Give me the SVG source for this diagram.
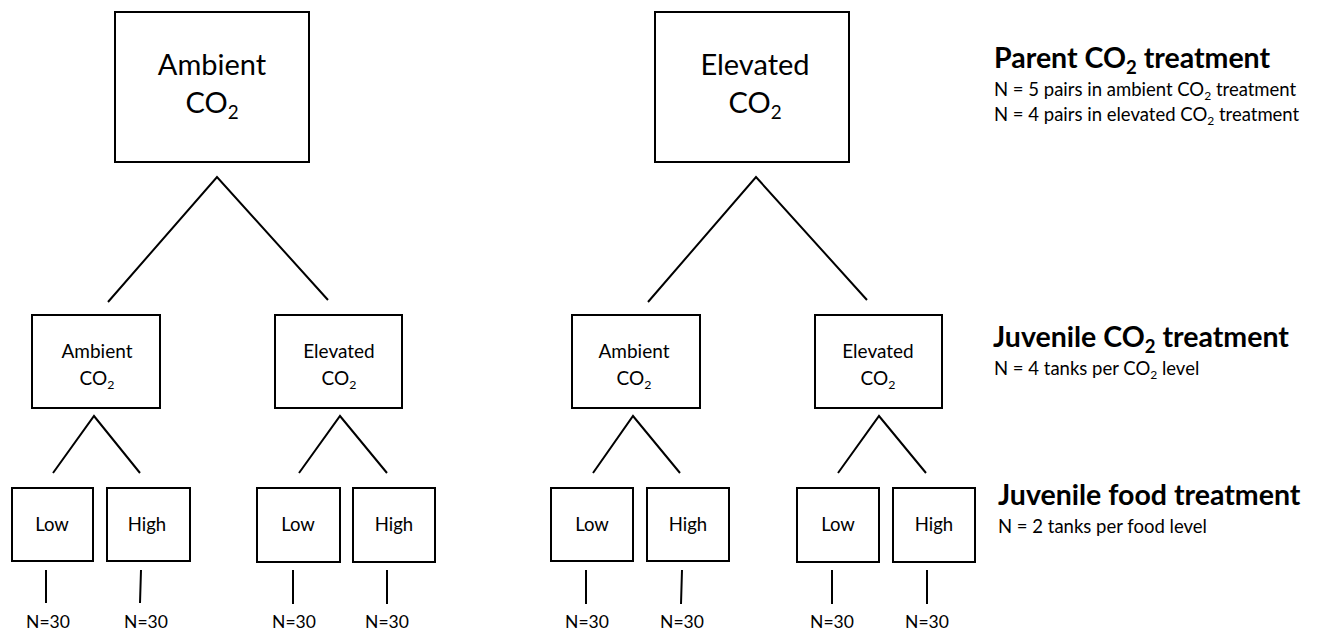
<svg xmlns="http://www.w3.org/2000/svg" width="1321" height="631" viewBox="0 0 1321 631">
<style>
.box{fill:#fff;stroke:#000;stroke-width:2}
.ln{stroke:#000;stroke-width:2;fill:none}
text{font-family:Lato,"Liberation Sans",sans-serif;fill:#000}
.big{font-size:29px;text-anchor:middle}
.mid{font-size:19px;text-anchor:middle}
.sm{font-size:18.5px;text-anchor:middle}
.cnt{font-size:17.5px;text-anchor:middle}
.hd{font-size:28.5px;font-weight:bold}
.note{font-size:18.5px}
.sub{font-size:65%}
</style>
<rect width="1321" height="631" fill="#fff"/>
<g id="connectors">
<path class="ln" d="M108,302 L217,177 L328,300"/>
<path class="ln" d="M648,302 L756,177 L867,300"/>
<path class="ln" d="M53,473 L94,416 L140,473"/>
<path class="ln" d="M299,473 L340,416 L387,473"/>
<path class="ln" d="M593,473 L633,416 L680,473"/>
<path class="ln" d="M838,473 L879,416 L926,473"/>
<path class="ln" d="M46,570 V603 M141,570 L140,603 M293,570 V604 M387,570 V604 M586,570 V604 M682,570 L681,604 M832,570 V604 M927,570 V604"/>
</g>
<g id="parent-ambient"><rect class="box" x="115" y="12" width="194" height="150"/><text class="big" x="212" y="75">Ambient</text><text class="big" x="212" y="113">CO<tspan class="sub" dy="6">2</tspan></text></g>
<g id="parent-elevated"><rect class="box" x="655" y="12" width="194" height="150"/><text class="big" x="755" y="75">Elevated</text><text class="big" x="755" y="113">CO<tspan class="sub" dy="6">2</tspan></text></g>
<g id="juv-a-ambient"><rect class="box" x="32" y="315" width="128" height="93"/><text class="mid" x="97" y="358">Ambient</text><text class="mid" x="97" y="385">CO<tspan class="sub" dy="4">2</tspan></text></g>
<g id="juv-a-elevated"><rect class="box" x="275" y="315" width="127" height="93"/><text class="mid" x="339" y="358">Elevated</text><text class="mid" x="339" y="385">CO<tspan class="sub" dy="4">2</tspan></text></g>
<g id="juv-e-ambient"><rect class="box" x="572" y="315" width="128" height="93"/><text class="mid" x="634" y="358">Ambient</text><text class="mid" x="634" y="385">CO<tspan class="sub" dy="4">2</tspan></text></g>
<g id="juv-e-elevated"><rect class="box" x="815" y="315" width="127" height="93"/><text class="mid" x="878" y="358">Elevated</text><text class="mid" x="878" y="385">CO<tspan class="sub" dy="4">2</tspan></text></g>
<g id="food-1-low"><rect class="box" x="12" y="488" width="81" height="73"/><text class="sm" x="52" y="531">Low</text></g>
<g id="food-1-high"><rect class="box" x="107" y="488" width="83" height="73"/><text class="sm" x="147" y="531">High</text></g>
<g id="food-2-low"><rect class="box" x="257" y="488" width="83" height="74"/><text class="sm" x="298" y="531">Low</text></g>
<g id="food-2-high"><rect class="box" x="353" y="488" width="82" height="74"/><text class="sm" x="394" y="531">High</text></g>
<g id="food-3-low"><rect class="box" x="551" y="488" width="82" height="73"/><text class="sm" x="592" y="531">Low</text></g>
<g id="food-3-high"><rect class="box" x="647" y="488" width="82" height="73"/><text class="sm" x="688" y="531">High</text></g>
<g id="food-4-low"><rect class="box" x="797" y="488" width="82" height="74"/><text class="sm" x="838" y="531">Low</text></g>
<g id="food-4-high"><rect class="box" x="893" y="488" width="82" height="74"/><text class="sm" x="934" y="531">High</text></g>
<g id="counts">
<text class="cnt" x="48" y="628">N=30</text><text class="cnt" x="146" y="628">N=30</text>
<text class="cnt" x="294" y="628">N=30</text><text class="cnt" x="387" y="628">N=30</text>
<text class="cnt" x="587" y="628">N=30</text><text class="cnt" x="682" y="628">N=30</text>
<text class="cnt" x="832" y="628">N=30</text><text class="cnt" x="927" y="628">N=30</text>
</g>
<g id="legend">
<text class="hd" x="994" y="68">Parent CO<tspan class="sub" dy="6">2</tspan><tspan dy="-6"> treatment</tspan></text>
<text class="note" x="994" y="96">N = 5 pairs in ambient CO<tspan class="sub" dy="4">2</tspan><tspan dy="-4"> treatment</tspan></text>
<text class="note" x="994" y="121">N = 4 pairs in elevated CO<tspan class="sub" dy="4">2</tspan><tspan dy="-4"> treatment</tspan></text>
<text class="hd" x="993" y="347">Juvenile CO<tspan class="sub" dy="6">2</tspan><tspan dy="-6"> treatment</tspan></text>
<text class="note" x="994" y="375">N = 4 tanks per CO<tspan class="sub" dy="4">2</tspan><tspan dy="-4"> level</tspan></text>
<text class="hd" x="998" y="505">Juvenile food treatment</text>
<text class="note" x="998" y="533">N = 2 tanks per food level</text>
</g>
</svg>
